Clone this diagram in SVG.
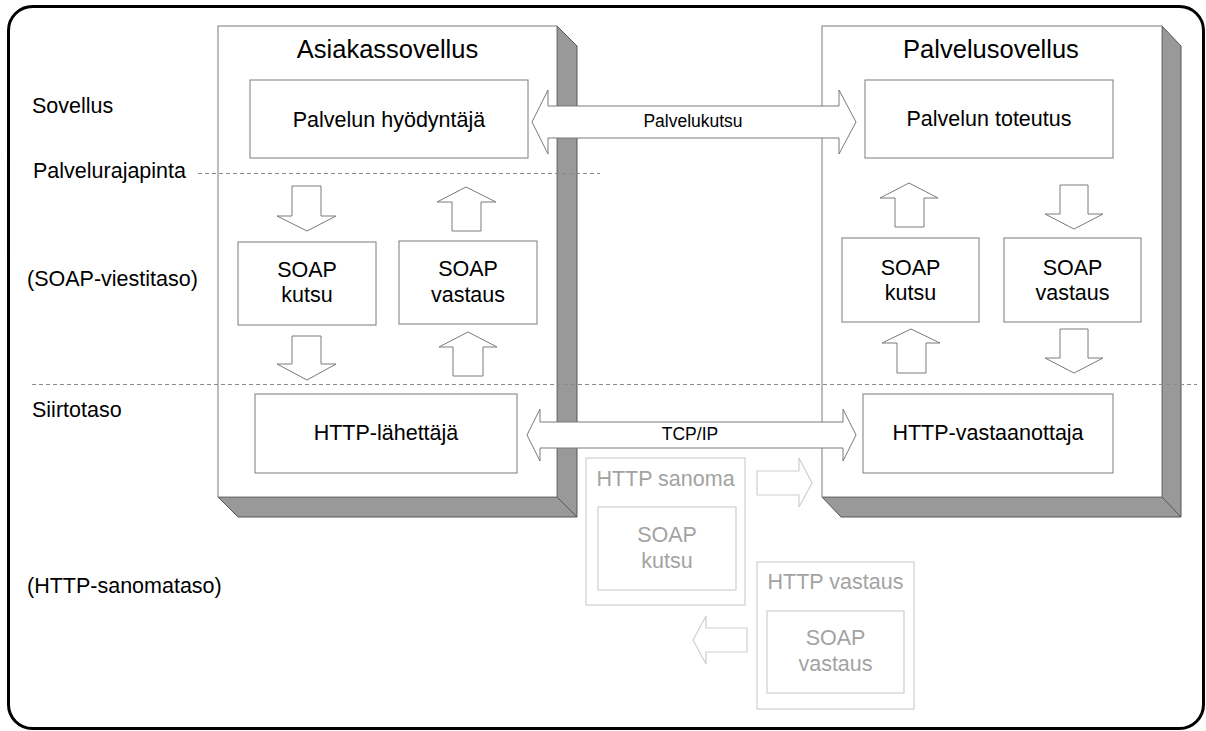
<svg xmlns="http://www.w3.org/2000/svg" width="1206" height="731" viewBox="0 0 1206 731">
  <style>
    text { font-family: "Liberation Sans", Arial, sans-serif; fill: #000; }
    .title { font-size: 25.5px; text-anchor: middle; }
    .lbl { font-size: 21.5px; text-anchor: middle; }
    .side { font-size: 21.5px; }
    .small { font-size: 17.5px; text-anchor: middle; }
    .faint { fill: #a3a3a3; }
    .box { fill: #fff; stroke: #7a7a7a; stroke-width: 1; }
    .fbox { fill: #fff; stroke: #cfcfcf; stroke-width: 1.2; }
    .shade { fill: #999; stroke: #555; stroke-width: 1; }
    .arrow { fill: #fff; stroke: #7a7a7a; stroke-width: 1; }
    .farrow { fill: #fff; stroke: #cfcfcf; stroke-width: 1.2; }
    .dash { stroke: #8a8a8a; stroke-width: 1; stroke-dasharray: 4 3; fill: none; }
  </style>

  <!-- frame -->
  <rect x="8.5" y="6.5" width="1195" height="722" rx="24" ry="24" fill="#fff" stroke="#000" stroke-width="3"/>

  <!-- layer labels -->
  <g id="layer-labels">
    <text class="side" x="32" y="113">Sovellus</text>
    <text class="side" x="33" y="178">Palvelurajapinta</text>
    <text class="side" x="27" y="286">(SOAP-viestitaso)</text>
    <text class="side" x="32" y="417">Siirtotaso</text>
    <text class="side" x="27" y="593">(HTTP-sanomataso)</text>
  </g>

  <!-- client application block -->
  <g id="asiakassovellus">
    <polygon class="shade" points="557,26 577,46 577,517 238,517 218,497 557,497"/>
    <line x1="557" y1="497" x2="577" y2="517" stroke="#555" stroke-width="1"/>
    <rect class="box" x="218" y="26" width="339" height="471"/>
    <text class="title" x="387.5" y="58">Asiakassovellus</text>
  </g>

  <!-- service application block -->
  <g id="palvelusovellus">
    <polygon class="shade" points="1162,26 1181,46 1181,517 841,517 822,497 1162,497"/>
    <line x1="1162" y1="497" x2="1181" y2="517" stroke="#555" stroke-width="1"/>
    <rect class="box" x="822" y="26" width="340" height="471"/>
    <text class="title" x="991" y="58">Palvelusovellus</text>
  </g>

  <!-- layer boundaries -->
  <g id="boundaries">
    <line class="dash" x1="198" y1="173.5" x2="600" y2="173.5"/>
    <line class="dash" x1="32" y1="384.5" x2="1197" y2="384.5"/>
  </g>

  <g id="palvelun-hyodyntaja">
    <rect class="box" x="250" y="80" width="278" height="78"/>
    <text class="lbl" x="389" y="127">Palvelun hyödyntäjä</text>
  </g>
  <g id="palvelun-toteutus">
    <rect class="box" x="865" y="80" width="248" height="78"/>
    <text class="lbl" x="989" y="126">Palvelun toteutus</text>
  </g>

  <g id="soap-kutsu-client">
    <rect class="box" x="238" y="242" width="138" height="83"/>
    <text class="lbl" x="307" y="277">SOAP</text>
    <text class="lbl" x="307" y="302">kutsu</text>
  </g>
  <g id="soap-vastaus-client">
    <rect class="box" x="399" y="241" width="138" height="83"/>
    <text class="lbl" x="468" y="276">SOAP</text>
    <text class="lbl" x="468" y="302">vastaus</text>
  </g>
  <g id="soap-kutsu-service">
    <rect class="box" x="842" y="238" width="137" height="84"/>
    <text class="lbl" x="910.5" y="275">SOAP</text>
    <text class="lbl" x="910.5" y="300">kutsu</text>
  </g>
  <g id="soap-vastaus-service">
    <rect class="box" x="1004" y="238" width="137" height="84"/>
    <text class="lbl" x="1072.5" y="275">SOAP</text>
    <text class="lbl" x="1072.5" y="300">vastaus</text>
  </g>

  <g id="http-lahettaja">
    <rect class="box" x="255" y="394" width="262" height="79"/>
    <text class="lbl" x="386" y="440">HTTP-lähettäjä</text>
  </g>
  <g id="http-vastaanottaja">
    <rect class="box" x="863" y="394" width="250" height="79"/>
    <text class="lbl" x="988" y="440">HTTP-vastaanottaja</text>
  </g>

  <!-- messages on the wire -->
  <g id="http-sanoma">
    <rect class="fbox" x="586" y="458" width="159" height="147"/>
    <text class="lbl faint" x="665.5" y="486">HTTP sanoma</text>
    <rect class="fbox" x="598" y="507" width="138" height="83"/>
    <text class="lbl faint" x="667" y="542">SOAP</text>
    <text class="lbl faint" x="667" y="568">kutsu</text>
  </g>
  <g id="http-vastaus">
    <rect class="fbox" x="757" y="562" width="157" height="147"/>
    <text class="lbl faint" x="835.5" y="589">HTTP vastaus</text>
    <rect class="fbox" x="767" y="611" width="137" height="82"/>
    <text class="lbl faint" x="835.5" y="645">SOAP</text>
    <text class="lbl faint" x="835.5" y="671">vastaus</text>
  </g>

  <!-- connectors -->
  <g id="connectors">
    <polygon class="arrow" points="532,122 548,90 548,106 839,106 839,90 856,122 839,154 839,138 548,138 548,154"/>
    <text class="small" x="693" y="127">Palvelukutsu</text>

    <polygon class="arrow" points="527,435 540,409 540,422 843,422 843,409 856,435 843,461 843,448 540,448 540,461"/>
    <text class="small" x="690" y="440">TCP/IP</text>

    <!-- client side -->
    <polygon class="arrow" points="292,186 321,186 321,216 336,216 307,231 277,216 292,216"/>
    <polygon class="arrow" points="466,187 496,202 481,202 481,231 452,231 452,202 437,202"/>
    <polygon class="arrow" points="292,336 321,336 321,364 336,364 307,380 277,364 292,364"/>
    <polygon class="arrow" points="468,332 497,347 483,347 483,376 453,376 453,347 439,347"/>

    <!-- service side -->
    <polygon class="arrow" points="909,183 938,198 924,198 924,227 895,227 895,198 880,198"/>
    <polygon class="arrow" points="1060,185 1088,185 1088,214 1103,214 1074,229 1045,214 1060,214"/>
    <polygon class="arrow" points="911,329 940,343 926,343 926,373 897,373 897,343 882,343"/>
    <polygon class="arrow" points="1060,329 1088,329 1088,358 1103,358 1074,373 1045,358 1060,358"/>

    <!-- message flow -->
    <polygon class="farrow" points="757,471 799,471 799,458 812,483 799,507 799,495 757,495"/>
    <polygon class="farrow" points="693,640 706,616 706,628 747,628 747,652 706,652 706,664"/>
  </g>
</svg>
